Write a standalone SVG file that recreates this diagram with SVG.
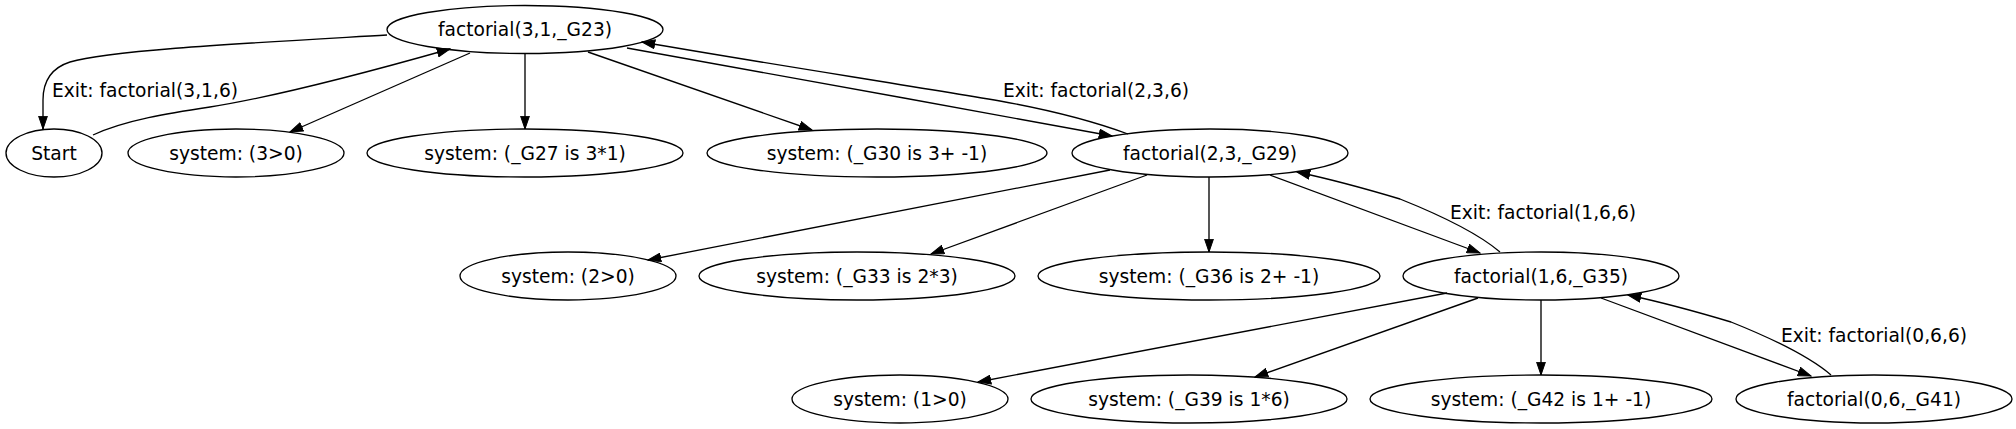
<svg xmlns="http://www.w3.org/2000/svg" width="2016" height="429" viewBox="0 0 2016 429">
<style>
.node ellipse{fill:none;stroke:#000;stroke-width:1.33}
.node text,.elabel{font-family:"DejaVu Sans","Liberation Sans",sans-serif;font-size:18.67px;fill:#000}
.node text{text-anchor:middle}
.edge{fill:none;stroke:#000;stroke-width:1.33;marker-end:url(#arr)}
</style>
<defs>
<marker id="arr" viewBox="0 0 14 10" refX="13.3" refY="5" markerWidth="14" markerHeight="10" markerUnits="userSpaceOnUse" orient="auto">
<path d="M0.5,0.6 L13.3,5 L0.5,9.4 Z" fill="#000" stroke="#000" stroke-width="1"/>
</marker>
</defs>
<rect width="2016" height="429" fill="#fff"/>
<g id="edges">
<path class="edge" d="M387,35 C250,43 110,50 70,62 C48,69 43,85 43,100 L43,129"/>
<path class="edge" d="M93,135 C125,120 170,113 210,107 C280,96 390,66 450,49"/>
<path class="edge" d="M470,53 L290,132"/>
<path class="edge" d="M525,53.5 L525,129"/>
<path class="edge" d="M588,52 L812,130"/>
<path class="edge" d="M627,48 C760,72 960,108 1112,136"/>
<path class="edge" d="M1128,134 C1090,120 1050,110 1000,101 C900,84 750,61 642,42"/>
<path class="edge" d="M1110,170 L648,260"/>
<path class="edge" d="M1147,175 L931,254"/>
<path class="edge" d="M1209,177 L1209,252"/>
<path class="edge" d="M1270,175 L1480,253"/>
<path class="edge" d="M1500,252 C1480,235 1440,215 1400,199 C1370,190 1325,178 1297,172"/>
<path class="edge" d="M1447,293 L978,382"/>
<path class="edge" d="M1478,298 L1255,377"/>
<path class="edge" d="M1541,300 L1541,375"/>
<path class="edge" d="M1601,298 L1811,376"/>
<path class="edge" d="M1831,375 C1811,358 1771,338 1731,322 C1701,313 1656,301 1628,295"/>
<text class="elabel" x="52" y="97">Exit: factorial(3,1,6)</text>
<text class="elabel" x="1003" y="97">Exit: factorial(2,3,6)</text>
<text class="elabel" x="1450" y="219">Exit: factorial(1,6,6)</text>
<text class="elabel" x="1781" y="342">Exit: factorial(0,6,6)</text>
</g>
<g id="F23" class="node"><ellipse cx="525" cy="29.5" rx="138" ry="24"/><text x="525" y="36">factorial(3,1,_G23)</text></g>
<g id="Start" class="node"><ellipse cx="54" cy="153" rx="48" ry="24"/><text x="54" y="159.5">Start</text></g>
<g id="S3gt0" class="node"><ellipse cx="236" cy="153" rx="108" ry="24"/><text x="236" y="159.5">system: (3&gt;0)</text></g>
<g id="G27" class="node"><ellipse cx="525" cy="153" rx="158" ry="24"/><text x="525" y="159.5">system: (_G27 is 3*1)</text></g>
<g id="G30" class="node"><ellipse cx="877" cy="153" rx="170" ry="24"/><text x="877" y="159.5">system: (_G30 is 3+ -1)</text></g>
<g id="F29" class="node"><ellipse cx="1210" cy="153" rx="138" ry="24"/><text x="1210" y="159.5">factorial(2,3,_G29)</text></g>
<g id="S2gt0" class="node"><ellipse cx="568" cy="276" rx="108" ry="24"/><text x="568" y="282.5">system: (2&gt;0)</text></g>
<g id="G33" class="node"><ellipse cx="857" cy="276" rx="158" ry="24"/><text x="857" y="282.5">system: (_G33 is 2*3)</text></g>
<g id="G36" class="node"><ellipse cx="1209" cy="276" rx="171" ry="24"/><text x="1209" y="282.5">system: (_G36 is 2+ -1)</text></g>
<g id="F35" class="node"><ellipse cx="1541" cy="276" rx="138" ry="24"/><text x="1541" y="282.5">factorial(1,6,_G35)</text></g>
<g id="S1gt0" class="node"><ellipse cx="900" cy="399" rx="108" ry="24"/><text x="900" y="405.5">system: (1&gt;0)</text></g>
<g id="G39" class="node"><ellipse cx="1189" cy="399" rx="158" ry="24"/><text x="1189" y="405.5">system: (_G39 is 1*6)</text></g>
<g id="G42" class="node"><ellipse cx="1541" cy="399" rx="171" ry="24"/><text x="1541" y="405.5">system: (_G42 is 1+ -1)</text></g>
<g id="F41" class="node"><ellipse cx="1874" cy="399" rx="138" ry="24"/><text x="1874" y="405.5">factorial(0,6,_G41)</text></g>
</svg>
